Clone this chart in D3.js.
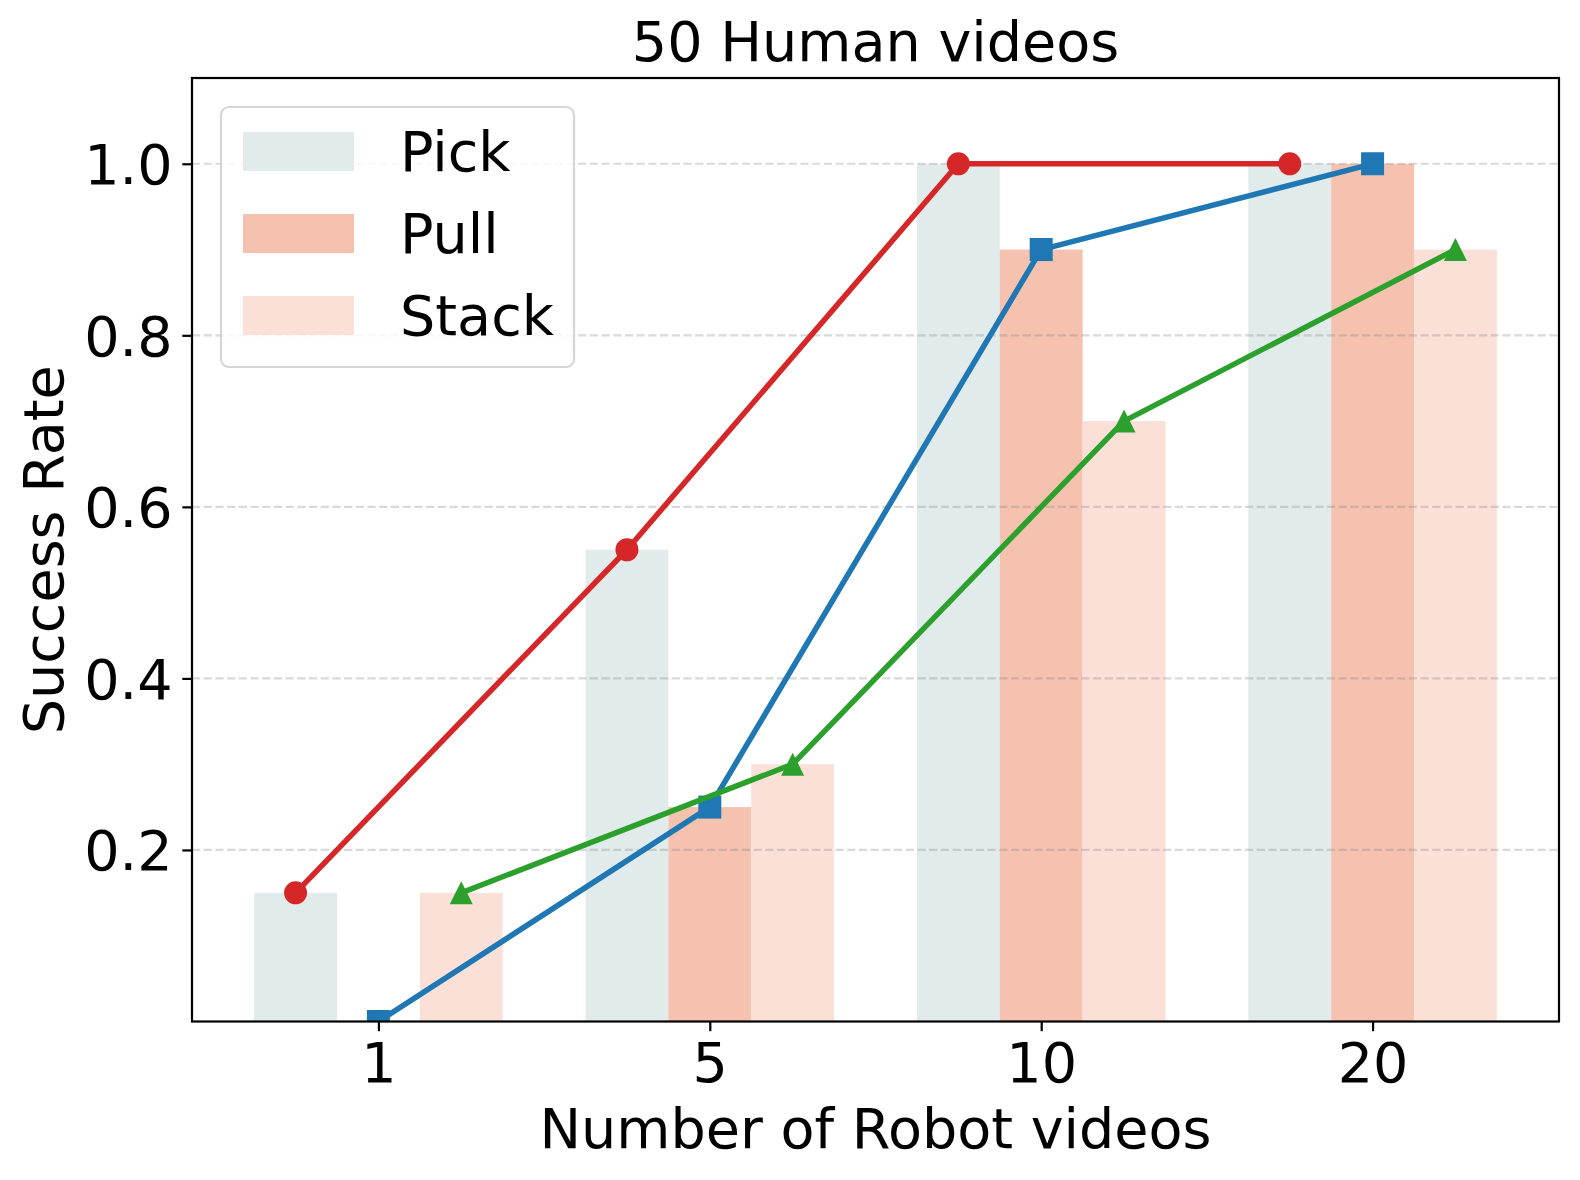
<!DOCTYPE html>
<html>
<head>
<meta charset="utf-8">
<script src="https://cdn.jsdelivr.net/npm/d3@7"></script>
<style>
  body { margin: 0; background: #fff; }
  text { font-family: "DejaVu Sans", sans-serif; fill: #000; }
</style>
</head>
<body>
<svg id="chart" width="1580" height="1180"></svg>
<script>
// data
const robotVideos = ['1', '5', '10', '20'];
const taskNames = ['Pick', 'Pull', 'Stack'];
const pick = [0.15, 0.55, 1.0, 1.0];
const pull = [0.0, 0.25, 0.9, 1.0];
const stack = [0.15, 0.3, 0.7, 0.9];
const yTicks = [0.2, 0.4, 0.6, 0.8, 1.0];

const barColors = ['#e1ebeb', '#f5c2b0', '#fbe0d7'];
const lineColors = ['#d62728', '#1f77b4', '#2ca02c'];
const markers = ['circle', 'square', 'triangle'];
const offsets = [-0.25, 0, 0.25];
const barWidth = 0.25;

const series = [pick, pull, stack];

const fs = 55.6;
const plot = { left: 192, right: 1559, top: 78, bottom: 1021.5 };

const svg = d3.select('#chart');

let x = d3.scaleLinear()
  .domain([-0.5625, robotVideos.length - 1 + 0.5625])
  .range([plot.left, plot.right]);

let y = d3.scaleLinear()
  .domain([0, 1.1])
  .range([plot.bottom, plot.top]);

svg.append('defs').append('clipPath')
  .attr('id', 'clip')
  .append('rect')
  .attr('x', plot.left)
  .attr('y', plot.top)
  .attr('width', plot.right - plot.left)
  .attr('height', plot.bottom - plot.top);

// bars
series.forEach(function (vals, s) {
  svg.append('g')
    .attr('class', 'bars')
    .selectAll('rect')
    .data(vals)
    .enter()
    .append('rect')
    .attr('x', function (d, i) { return x(i + offsets[s] - barWidth / 2); })
    .attr('width', x(barWidth) - x(0))
    .attr('y', function (d) { return y(d); })
    .attr('height', function (d) { return y(0) - y(d); })
    .attr('fill', barColors[s]);
});

// grid (above bars, under lines like matplotlib)
svg.append('g')
  .attr('class', 'grid')
  .selectAll('line')
  .data(yTicks)
  .enter()
  .append('line')
  .attr('x1', plot.left)
  .attr('x2', plot.right)
  .attr('y1', function (d) { return y(d); })
  .attr('y2', function (d) { return y(d); })
  .attr('stroke', '#808080')
  .attr('stroke-opacity', 0.3)
  .attr('stroke-width', 2.2)
  .attr('stroke-dasharray', '8.2,3.5');

// lines + markers
let lineGen = d3.line()
  .x(function (d) { return x(d[0]); })
  .y(function (d) { return y(d[1]); });

function markerPath(kind) {
  const r = 11.5;
  if (kind === 'circle') return d3.symbol().type(d3.symbolCircle).size(Math.PI * r * r)();
  if (kind === 'square') return 'M' + -r + ',' + -r + 'H' + r + 'V' + r + 'H' + -r + 'Z';
  return 'M0,' + -r + 'L' + r + ',' + r + 'L' + -r + ',' + r + 'Z';
}

let lineLayer = svg.append('g').attr('clip-path', 'url(#clip)');

series.forEach(function (vals, s) {
  let pts = vals.map(function (v, i) { return [i + offsets[s], v]; });
  lineLayer.append('path')
    .datum(pts)
    .attr('d', lineGen)
    .attr('fill', 'none')
    .attr('stroke', lineColors[s])
    .attr('stroke-width', 5.5)
    .attr('stroke-linejoin', 'round')
    .attr('stroke-linecap', 'square');

  lineLayer.append('g')
    .selectAll('path')
    .data(pts)
    .enter()
    .append('path')
    .attr('transform', function (d) { return 'translate(' + x(d[0]) + ',' + y(d[1]) + ')'; })
    .attr('d', markerPath(markers[s]))
    .attr('fill', lineColors[s]);
});

// spines
svg.append('rect')
  .attr('x', plot.left)
  .attr('y', plot.top)
  .attr('width', plot.right - plot.left)
  .attr('height', plot.bottom - plot.top)
  .attr('fill', 'none')
  .attr('stroke', '#000')
  .attr('stroke-width', 2.2);

// x axis
let xAxis = d3.axisBottom(x)
  .tickValues(d3.range(robotVideos.length))
  .tickFormat(function (i) { return robotVideos[i]; })
  .tickSize(9.7)
  .tickPadding(9.7);

let gx = svg.append('g')
  .attr('transform', 'translate(0,' + plot.bottom + ')')
  .call(xAxis);
gx.select('.domain').remove();
gx.selectAll('line').attr('stroke', '#000').attr('stroke-width', 2.2);
gx.selectAll('text')
  .attr('font-size', fs)
  .attr('font-family', 'DejaVu Sans')
  .attr('dy', null)
  .attr('y', 9.7 + 9.7 + 41);

// y axis
let yAxis = d3.axisLeft(y)
  .tickValues(yTicks)
  .tickFormat(d3.format('.1f'))
  .tickSize(9.7)
  .tickPadding(9.7);

let gy = svg.append('g')
  .attr('transform', 'translate(' + plot.left + ',0)')
  .call(yAxis);
gy.select('.domain').remove();
gy.selectAll('line').attr('stroke', '#000').attr('stroke-width', 2.2);
gy.selectAll('text')
  .attr('font-size', fs)
  .attr('font-family', 'DejaVu Sans')
  .attr('dy', null)
  .attr('y', 20);

// title and axis labels
let cx = (plot.left + plot.right) / 2;
svg.append('text')
  .attr('x', cx)
  .attr('y', 61)
  .attr('text-anchor', 'middle')
  .attr('font-size', fs)
  .text('50 Human videos');

svg.append('text')
  .attr('x', cx)
  .attr('y', 1148)
  .attr('text-anchor', 'middle')
  .attr('font-size', fs)
  .text('Number of Robot videos');

svg.append('text')
  .attr('transform', 'translate(63,' + (plot.top + plot.bottom) / 2 + ') rotate(-90)')
  .attr('text-anchor', 'middle')
  .attr('font-size', fs)
  .text('Success Rate');

// legend
let lg = svg.append('g').attr('transform', 'translate(221,107)');
lg.append('rect')
  .attr('width', 353)
  .attr('height', 260)
  .attr('rx', 8)
  .attr('fill', '#fff')
  .attr('fill-opacity', 0.8)
  .attr('stroke', '#cccccc')
  .attr('stroke-opacity', 0.8)
  .attr('stroke-width', 2.2);

let items = lg.selectAll('g.item')
  .data(taskNames)
  .enter()
  .append('g')
  .attr('class', 'item')
  .attr('transform', function (d, i) { return 'translate(22,' + (25 + i * 82) + ')'; });

items.append('rect')
  .attr('width', 111)
  .attr('height', 39)
  .attr('fill', function (d, i) { return barColors[i]; });

items.append('text')
  .attr('x', 157)
  .attr('y', 39)
  .attr('font-size', fs)
  .text(function (d) { return d; });
</script>
</body>
</html>
